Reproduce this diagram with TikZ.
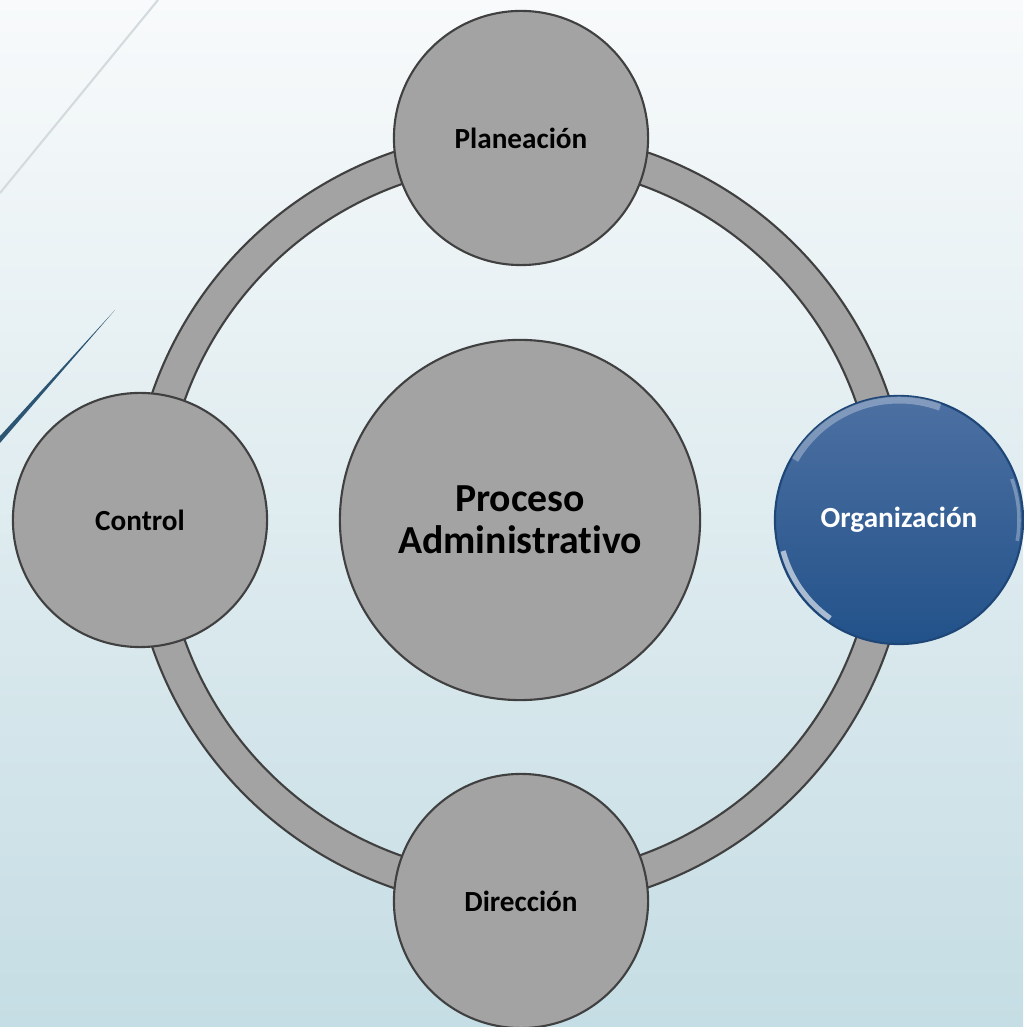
\documentclass[tikz,border=0pt]{standalone}
\usepackage{fontspec}
\setmainfont{Carlito}[Ligatures=NoCommon]
\definecolor{bgtop}{HTML}{F8FAFB}
\definecolor{bgbottom}{HTML}{C5DDE4}
\definecolor{stepgray}{HTML}{A3A3A3}
\definecolor{rimgray}{HTML}{404040}
\definecolor{orgtop}{HTML}{4D70A2}
\definecolor{orgbottom}{HTML}{22528A}
\definecolor{orgrim}{HTML}{1E4677}
\definecolor{accentblue}{HTML}{2C5573}
\definecolor{accentgray}{HTML}{D3DBDE}
\begin{document}
\begin{tikzpicture}[x=0.01cm,y=0.01cm,
  phase/.style={circle,draw=rimgray,fill=stepgray,line width=0.6pt,minimum size=2.54cm,inner sep=0pt,
    font=\bfseries\fontsize{8.3}{10}\selectfont},
  core/.style={phase,minimum size=3.6cm,align=center,font=\bfseries\fontsize{11.3}{12}\selectfont},
  active/.style={phase,draw=orgrim,top color=orgtop,bottom color=orgbottom,text=white,minimum size=2.48cm}]
\shade[top color=bgtop,bottom color=bgbottom] (0,0) rectangle (1023,1027);
\useasboundingbox (0,0) rectangle (1023,1027);
\draw[accentgray,line width=0.6pt] (158,1027) -- (0,834);
\fill[accentblue] (115,717) -- (0,584) -- (0,591) -- cycle;
\path[fill=stepgray,draw=rimgray,line width=0.6pt,even odd rule]
  (520,507) circle (389) (520,507) circle (356);
\node[phase] (plan) at (521,889) {Planeación};
\node[phase] (dir) at (521,126) {Dirección};
\node[phase] (ctrl) at (140,507) {Control};
\node[core] (proc) at (520,507) {Proceso\\Administrativo};
\node[active] (org) at (899,507) {Organización};
\draw[white,opacity=0.3,line width=2pt] (org.center) ++(150:120) arc (150:70:120);
\draw[white,opacity=0.6,line width=1.5pt] (org.center) ++(235:120) arc (235:195:120);
\draw[white,opacity=0.3,line width=1pt] (org.center) ++(20:120) arc (20:-10:120);
\end{tikzpicture}
\end{document}
